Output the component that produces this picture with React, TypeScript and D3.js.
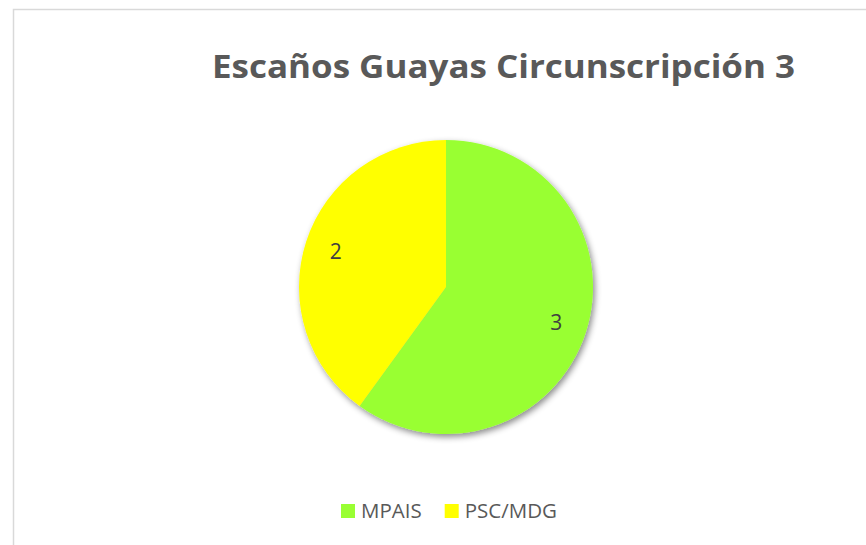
import * as d3 from 'd3';
import { useEffect, useRef } from 'react';

type Slice = { party: string; seats: number; color: string };

const parties = ['MPAIS', 'PSC/MDG'];
const seats = [3, 2];
const colors = ['#99ff33', '#ffff00'];

const title = 'Escaños Guayas Circunscripción 3';

const width = 866;
const height = 545;

function App() {
  const svgRef = useRef<SVGSVGElement | null>(null);

  useEffect(() => {
    if (!svgRef.current) {
      return;
    }

    const rows: Slice[] = parties.map((party, i) => ({ party, seats: seats[i], color: colors[i] }));
    const svg = d3.select(svgRef.current);
    svg.selectAll('*').remove();

    const center = { x: 446, y: 287 };
    const radius = 147;
    const font = "'Open Sans', sans-serif";

    // chart area border (clipped by the window on right and bottom)
    svg
      .append('rect')
      .attr('x', 13.5)
      .attr('y', 9.5)
      .attr('width', width)
      .attr('height', height)
      .attr('fill', '#ffffff')
      .attr('stroke', '#d9d9d9')
      .attr('stroke-width', 1.5);

    const defs = svg.append('defs');
    const shadow = defs
      .append('filter')
      .attr('id', 'pie-shadow')
      .attr('x', '-20%')
      .attr('y', '-20%')
      .attr('width', '140%')
      .attr('height', '140%');
    shadow
      .append('feDropShadow')
      .attr('dx', 2)
      .attr('dy', 3)
      .attr('stdDeviation', 3)
      .attr('flood-color', '#000000')
      .attr('flood-opacity', 0.45);

    svg
      .append('text')
      .attr('x', 503.5)
      .attr('y', 78)
      .attr('text-anchor', 'middle')
      .attr('font-family', font)
      .attr('font-weight', 700)
      .attr('font-size', 32)
      .attr('fill', '#595959')
      .attr('textLength', 583)
      .attr('lengthAdjust', 'spacingAndGlyphs')
      .text(title);

    const pie = d3
      .pie<Slice>()
      .value((row) => row.seats)
      .sort(null);
    const arcs = pie(rows);
    const arc = d3.arc<d3.PieArcDatum<Slice>>().innerRadius(0).outerRadius(radius);
    const labelArc = d3.arc<d3.PieArcDatum<Slice>>().innerRadius(116).outerRadius(116);

    const root = svg.append('g').attr('transform', `translate(${center.x},${center.y})`);

    root
      .append('g')
      .attr('filter', 'url(#pie-shadow)')
      .selectAll('path')
      .data(arcs)
      .join('path')
      .attr('d', arc)
      .attr('fill', (d) => d.data.color);

    root
      .selectAll('text.value')
      .data(arcs)
      .join('text')
      .attr('class', 'value')
      .attr('transform', (d) => {
        const [x, y] = labelArc.centroid(d);
        return `translate(${x},${y})`;
      })
      .attr('text-anchor', 'middle')
      .attr('dy', '0.36em')
      .attr('font-family', font)
      .attr('font-size', 21)
      .attr('fill', '#404040')
      .text((d) => d.data.seats);

    // legend
    const legend = svg.append('g').attr('transform', 'translate(341,511)');
    let offset = 0;
    rows.forEach((row) => {
      const item = legend.append('g').attr('transform', `translate(${offset},0)`);
      item
        .append('rect')
        .attr('x', 0)
        .attr('y', -7)
        .attr('width', 14)
        .attr('height', 14)
        .attr('fill', row.color);
      const label = item
        .append('text')
        .attr('x', 20)
        .attr('y', 0)
        .attr('dy', '0.36em')
        .attr('font-family', font)
        .attr('font-size', 20.5)
        .attr('fill', '#595959')
        .text(row.party);
      const textWidth = (label.node() as SVGTextElement).getComputedTextLength();
      offset += 20 + textWidth + 23;
    });
  }, []);

  return (
    <svg
      ref={svgRef}
      width={width}
      height={height}
      style={{ position: 'absolute', left: 0, top: 0, background: '#ffffff' }}
    />
  );
}

export default App;
